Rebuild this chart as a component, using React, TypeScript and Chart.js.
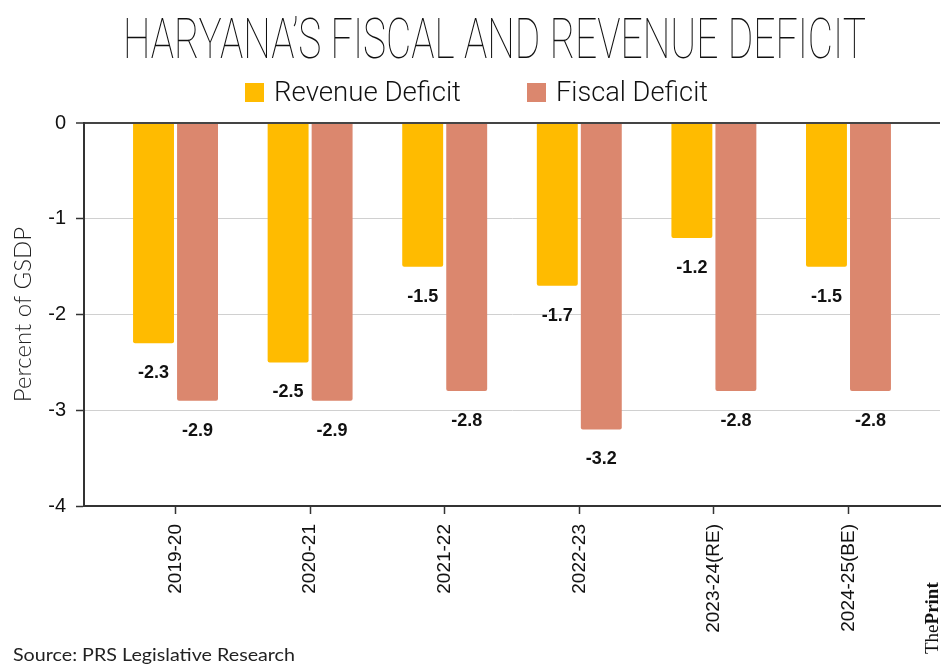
import React, { useEffect, useRef } from "react";
import { Chart, registerables } from "chart.js";

Chart.register(...registerables);

const chartTitle = "HARYANA\u2019S FISCAL AND REVENUE DEFICIT";
const categories = ["2019-20", "2020-21", "2021-22", "2022-23", "2023-24(RE)", "2024-25(BE)"];
const revenueDeficit = [-2.3, -2.5, -1.5, -1.7, -1.2, -1.5];
const fiscalDeficit = [-2.9, -2.9, -2.8, -3.2, -2.8, -2.8];
const seriesNames = ["Revenue Deficit", "Fiscal Deficit"];
const seriesColors = ["#FFBB00", "#DB876E"];
const yAxisTitle = "Percent of GSDP";
const sourceText = "Source: PRS Legislative Research";

const measureCanvas = typeof document !== "undefined" ? document.createElement("canvas") : null;
function measure(text: string, font: string): number {
  if (!measureCanvas) return 1;
  const ctx = measureCanvas.getContext("2d")!;
  ctx.font = font;
  return ctx.measureText(text).width || 1;
}

function FitText(props: {
  text: string;
  left: number;
  top: number;
  width: number;
  size: number;
  family: string;
  weight: number;
  color?: string;
}) {
  const { text, left, top, width, size, family, weight, color } = props;
  const natural = measure(text, `${weight} ${size}px ${family}`);
  const sx = width / natural;
  return (
    <div
      style={{
        position: "absolute",
        left,
        top,
        whiteSpace: "nowrap",
        fontFamily: family,
        fontSize: size,
        fontWeight: weight,
        lineHeight: 1,
        color: color || "#111",
        transform: `scaleX(${sx})`,
        transformOrigin: "left top",
      }}
    >
      {text}
    </div>
  );
}

const valueLabels = {
  id: "valueLabels",
  afterDatasetsDraw(chart: any) {
    const ctx = chart.ctx;
    ctx.save();
    ctx.font = 'bold 18px "Liberation Sans", Arial, sans-serif';
    ctx.fillStyle = "#111";
    ctx.textAlign = "center";
    ctx.textBaseline = "middle";
    chart.data.datasets.forEach((ds: any, di: number) => {
      const meta = chart.getDatasetMeta(di);
      meta.data.forEach((el: any, i: number) => {
        const v = ds.data[i].y as number;
        ctx.fillText(v.toFixed(1), el.x, el.y + 30);
      });
    });
    ctx.restore();
  },
};

function BarChart() {
  const ref = useRef<HTMLCanvasElement>(null);
  useEffect(() => {
    if (!ref.current) return;
    const chart = new Chart(ref.current, {
      type: "bar",
      data: {
        datasets: [
          {
            label: seriesNames[0],
            data: revenueDeficit.map((v, i) => ({ x: i, y: v })),
            backgroundColor: seriesColors[0],
            borderRadius: 2,
            categoryPercentage: 0.654,
            barPercentage: 0.93,
          },
          {
            label: seriesNames[1],
            data: fiscalDeficit.map((v, i) => ({ x: i, y: v })),
            backgroundColor: seriesColors[1],
            borderRadius: 2,
            categoryPercentage: 0.654,
            barPercentage: 0.93,
          },
        ],
      },
      options: {
        animation: false,
        responsive: false,
        maintainAspectRatio: false,
        layout: { padding: { top: 123, right: 10, bottom: 0, left: 0 } },
        plugins: {
          legend: { display: false },
          title: { display: false },
          tooltip: { enabled: false },
        },
        scales: {
          x: {
            type: "linear",
            offset: false,
            min: -0.68,
            max: 5.68,
            afterBuildTicks: (s: any) => {
              s.ticks = categories.map((_, i) => ({ value: i }));
            },
            afterFit: (s: any) => {
              s.height = 164;
            },
            ticks: {
              autoSkip: false,
              minRotation: 90,
              maxRotation: 90,
              padding: 10,
              color: "#111",
              font: { family: '"Liberation Sans", Arial, sans-serif', size: 19 },
              callback: (v: any) => categories[v as number] ?? "",
            },
            grid: {
              offset: false,
              drawOnChartArea: false,
              drawTicks: true,
              tickLength: 8,
              tickColor: "#333",
              tickWidth: 1.5,
            },
            border: { color: "#333", width: 2 },
          },
          y: {
            min: -4,
            max: 0,
            afterFit: (s: any) => {
              s.width = 84;
            },
            ticks: {
              stepSize: 1,
              padding: 10,
              color: "#111",
              font: { family: '"Liberation Sans", Arial, sans-serif', size: 20 },
            },
            grid: {
              color: (c: any) => (c.tick && c.tick.value === 0 ? "#444" : "#d0d0d0"),
              lineWidth: (c: any) => (c.tick && c.tick.value === 0 ? 2 : 1),
              tickColor: "#333",
              tickLength: 8,
              tickWidth: 1.5,
            },
            border: { color: "#333", width: 2 },
            title: {
              display: true,
              text: yAxisTitle,
              color: "#222",
              font: { family: "Lato, sans-serif", size: 24, weight: "300" as any },
              padding: { top: 9, bottom: 0 },
            },
          },
        },
      },
      plugins: [valueLabels],
    } as any);
    return () => chart.destroy();
  }, []);
  return <canvas ref={ref} width={950} height={670} style={{ position: "absolute", left: 0, top: 0 }} />;
}

export default function App() {
  return (
    <div style={{ position: "absolute", left: 0, top: 0, width: 950, height: 670, background: "#fff", overflow: "hidden" }}>
      <BarChart />
      <FitText text={chartTitle} left={123} top={11} width={743} size={56} family="Roboto, sans-serif" weight={100} color="#111" />
      <div style={{ position: "absolute", left: 245, top: 83, width: 19, height: 19, background: seriesColors[0] }} />
      <FitText text={seriesNames[0]} left={274} top={79} width={187} size={27} family="Roboto, sans-serif" weight={300} color="#111" />
      <div style={{ position: "absolute", left: 527, top: 83, width: 19, height: 19, background: seriesColors[1] }} />
      <FitText text={seriesNames[1]} left={556} top={79} width={152} size={27} family="Roboto, sans-serif" weight={300} color="#111" />
      <FitText text={sourceText} left={13} top={645} width={282} size={18} family="Lato, sans-serif" weight={400} color="#222" />
      <div
        style={{
          position: "absolute",
          left: 922,
          top: 654,
          whiteSpace: "nowrap",
          fontFamily: '"Liberation Serif", "DejaVu Serif", serif',
          fontSize: 19,
          lineHeight: 1,
          color: "#111",
          transform: "rotate(-90deg)",
          transformOrigin: "left top",
        }}
      >
        The<b>Print</b>
      </div>
    </div>
  );
}
